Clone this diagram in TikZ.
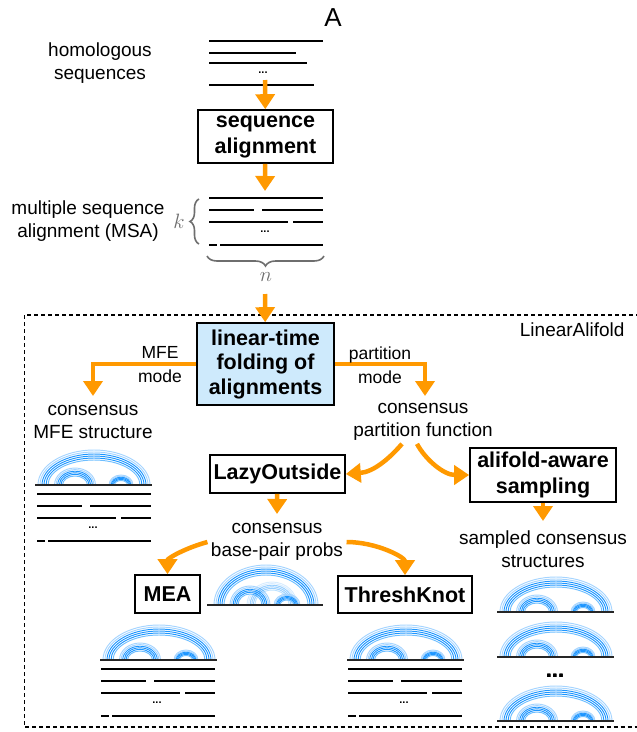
\documentclass[tikz,border=0pt]{standalone}
\usepackage{fontspec}
\setmainfont{Liberation Sans}
\usepackage{tikz}
\usetikzlibrary{arrows.meta}
\usetikzlibrary{decorations.pathreplacing}
\definecolor{floworange}{RGB}{255,153,0}
\definecolor{arcblue}{RGB}{30,150,255}
\definecolor{arcmid}{RGB}{110,190,255}
\definecolor{arclite}{RGB}{165,212,255}
\definecolor{foldfill}{RGB}{206,234,252}
\definecolor{bracegray}{RGB}{110,110,110}
\tikzset{flow/.style={draw=floworange, line width=4.5pt, -{Triangle[width=19pt,length=15pt]}},
         seqln/.style={line width=2pt},
         baseln/.style={line width=1.2pt, black!85},
         toolframe/.style={line width=1.3pt, dash pattern=on 4pt off 3pt},
         stage/.style={draw, line width=1.6pt, align=center, inner sep=2pt,
                       font=\fontsize{21.5}{26}\selectfont\bfseries},
         caption/.style={align=center, font=\fontsize{19}{22.5}\selectfont},
         modelabel/.style={align=center, font=\fontsize{17.5}{24}\selectfont},
         seqdots/.style={inner sep=0pt, font=\fontsize{11}{11}\selectfont\bfseries}}
% one family of nested arcs: centre x, base y, x radius, y radius, spacing
\newcommand{\arcfan}[5]{%
  \foreach \off/\col in {0/arclite,1/arclite,2/arcblue,3/arcblue,4/arcblue,5/arcmid}
    \draw[\col, line width=0.95pt] ({#1-#3+\off*#5},#2)
      arc[start angle=180, end angle=0, x radius={(#3-\off*#5)*1pt}, y radius={(#4-\off*#5)*1pt}];
}
% consensus structure drawn above its backbone
\newcommand{\arcdiagram}[2]{%
  \arcfan{#1+59}{#2}{56}{35}{2}
  \arcfan{#1+40}{#2}{20.5}{17}{1.6}
  \arcfan{#1+86}{#2}{12}{10}{1.1}
  \draw[baseln] (#1,#2) -- (#1+117,#2);
}
% aligned rows with gaps
\newcommand{\msablock}[3]{%
  \draw[seqln] (#2,#3) -- ++(114,0);
  \draw[seqln] (#2,#3+12) -- ++(45,0) (#2+53,#3+12) -- ++(61,0);
  \draw[seqln] (#2,#3+23.5) -- ++(79,0) (#2+84,#3+23.5) -- ++(30,0);
  \node[seqdots] (#1-dots) at (#2+56,#3+34) {...};
  \draw[seqln] (#2,#3+47) -- ++(8,0) (#2+11,#3+47) -- ++(103,0);
}

\begin{document}
\begin{tikzpicture}[decoration=brace, x=1pt, y=-1pt]
\useasboundingbox (0,0) rectangle (637,732);

% input and alignment
\node[font=\fontsize{26}{26}\selectfont] (panel) at (333,18) {A};
\node[caption] (homol) at (100,63) {homologous\\sequences};
\foreach \y/\len in {41/114,53/87,63/98,85/105}
  \draw[seqln] (209,\y) -- ++(\len,0);
\node[seqdots] (homol-dots) at (263,73) {...};
\coordinate (seqtail) at (265,80);
\node[stage, minimum width=135pt, minimum height=53pt] (align) at (265.5,136.5) {sequence\\alignment};
\draw[flow] (seqtail) -- (align);
\coordinate (msatop) at (265,191);
\draw[flow] (align) -- (msatop);

\msablock{msa}{209}{198}
\node[caption] (msatext) at (88,221) {multiple sequence\\alignment (MSA)};
\draw[decorate, decoration={amplitude=9pt}, bracegray, line width=1.6pt] (199,244) -- (199,199);
\node[font=\fontsize{20}{20}\selectfont, text=bracegray] (kcount) at (179,221) {$k$};
\draw[decorate, decoration={amplitude=10pt}, bracegray, line width=1.6pt] (324,256) -- (207,256);
\node[font=\fontsize{20}{20}\selectfont, text=bracegray] (ncount) at (266,277) {$n$};

% LinearAlifold
\draw[toolframe] (24.5,315) rectangle (641,727);
\node[caption, anchor=east] (toolname) at (628,330) {LinearAlifold};
\node[stage, fill=foldfill, minimum width=137pt, minimum height=82pt,
      font=\fontsize{21.5}{24.5}\selectfont\bfseries] (fold) at (265.5,364) {linear-time\\folding of\\alignments};
\coordinate (ntail) at (265,294);
\draw[flow] (ntail) -- (fold);

\node[caption] (mfe) at (93,422) {consensus\\MFE structure};
\coordinate (mfetip) at (93,396);
\draw[flow] (fold.west) -| (mfetip);
\node[modelabel] (mfemode) at (160,365) {MFE\\mode};

\node[caption] (pf) at (423,422) {consensus\\partition function};
\coordinate (pftip) at (425,396);
\draw[flow] (fold.east) -| (pftip);
\node[modelabel] (pfmode) at (380,365) {partition\\mode};

\arcdiagram{35}{485}
\msablock{mfeseq}{37}{494}

\node[stage, minimum width=135pt, minimum height=38pt] (lazy) at (277.5,474) {LazyOutside};
\node[stage, minimum width=146pt, minimum height=54pt] (samp) at (543,475) {alifold-aware\\sampling};
\draw[flow] ([xshift=-21pt]pf.south) .. controls +(-12,14) and +(28,-2) .. (lazy.east);
\draw[flow] ([xshift=-6pt]pf.south) .. controls +(8,15) and +(-26,0) .. (samp.west);

\coordinate (lazytip) at (277,514);
\draw[flow] (lazy) -- (lazytip);
\node[caption] (probs) at (277,542) {consensus\\base-pair probs};

% pair probabilities
\arcfan{266}{605}{52}{40}{2}
\arcfan{250}{605}{20}{19}{1.6}
\begin{scope}[opacity=0.45]
\arcfan{272}{605}{25}{23}{1.6}
\end{scope}
\arcfan{287}{605}{13}{11}{1.2}
\draw[baseln] (207,605) -- (323,605);

\node[stage, minimum width=65pt, minimum height=38pt] (mea) at (167.5,594) {MEA};
\node[stage, minimum width=134pt, minimum height=37pt] (thresh) at (405,594.5) {ThreshKnot};
\draw[flow] (probs.west) .. controls +(-22,6) and +(0,-16) .. (mea.north);
\draw[flow] (probs.east) .. controls +(30,0) and +(0,-18) .. (thresh.north);

\arcdiagram{100}{660}
\msablock{measeq}{101}{669}
\arcdiagram{347}{660}
\msablock{threshseq}{348}{669}

% samples
\coordinate (samptip) at (543,521);
\draw[flow] (samp) -- (samptip);
\node[caption] (sampled) at (543,549) {sampled consensus\\structures};
\foreach \y in {612,657,721}
  \arcdiagram{497}{\y}
\node[font=\fontsize{22}{22}\selectfont\bfseries, inner sep=0pt] (moredots) at (555,676) {...};
\end{tikzpicture}
\end{document}
